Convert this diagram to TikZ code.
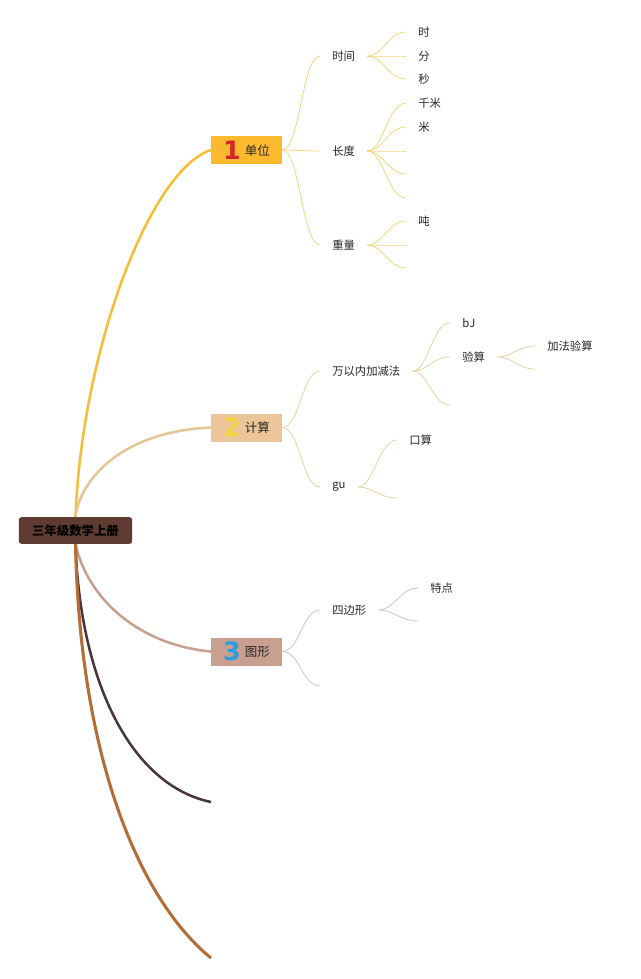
\documentclass[tikz,border=0pt]{standalone}
\usepackage{fontspec}
\newfontfamily\cjkfont{Noto Sans CJK SC}
\newfontfamily\numfont{DejaVu Sans}
\usepackage{xcolor}
\usetikzlibrary{positioning}

\definecolor{rootbrown}{HTML}{5F3B31}
\definecolor{unitfill}{HTML}{FBBA2E}
\definecolor{calcfill}{HTML}{ECC699}
\definecolor{shapefill}{HTML}{C9A08F}
\definecolor{unitline}{HTML}{F6BE38}
\definecolor{calcline}{HTML}{E3C597}
\definecolor{shapeline}{HTML}{C9A090}
\definecolor{darkline}{HTML}{4A3639}
\definecolor{rustline}{HTML}{B36E38}
\definecolor{unittwig}{HTML}{F7D47C}
\definecolor{calctwig}{HTML}{E6D3A3}
\definecolor{shapetwig}{HTML}{D0C6C0}
\definecolor{numred}{HTML}{D7262A}
\definecolor{numyellow}{HTML}{F6D545}
\definecolor{numblue}{HTML}{2C9CE0}

\begin{document}
\begin{tikzpicture}[x=0.75pt, y=-0.75pt,
        rootbox/.style={rectangle, rounded corners=2pt, fill=rootbrown, minimum width=85pt, minimum height=20pt, inner sep=0pt, font=\cjkfont\bfseries\fontsize{9.3}{10}\selectfont, text=black},
        mainbox/.style={rectangle, fill=#1, minimum width=53pt, minimum height=21pt, inner sep=0pt, font=\cjkfont\fontsize{9.4}{10}\selectfont, text=black!85},
        topic/.style={anchor=west, inner xsep=9pt, inner ysep=0pt, font=\cjkfont\fontsize{8.5}{9}\selectfont, text=black!85},
        trunk/.style={draw=#1, line width=1.9pt},
        twig/.style={draw=#1, line width=0.6pt}
    ]
        \useasboundingbox (0,0) rectangle (640,979);

        % Root and main topics
        \node[rootbox] (root) at (75.5, 530.5) {三年级数学上册};
        \node[mainbox=unitfill] (unit) at (246.5, 150) {{\numfont\bfseries\fontsize{19}{19}\selectfont\color{numred}1}\hspace{3pt}\raisebox{3pt}{单位}};
        \node[mainbox=calcfill] (calc) at (246.5, 427.5) {{\numfont\bfseries\fontsize{19}{19}\selectfont\color{numyellow}2}\hspace{3pt}\raisebox{3pt}{计算}};
        \node[mainbox=shapefill] (shape) at (246.5, 651.5) {{\numfont\bfseries\fontsize{19}{19}\selectfont\color{numblue}3}\hspace{3pt}\raisebox{3pt}{图形}};
        \coordinate (blank4) at (211, 802);
        \coordinate (blank5) at (211, 958);

        % Trunks
        \draw[trunk=unitline] (root.north) .. controls (82, 350) and (150, 170) .. (unit.west);
        \draw[trunk=calcline] (root.north) .. controls (79, 485) and (115, 432) .. (calc.west);
        \draw[trunk=shapeline] (root.south) .. controls (88, 600) and (140, 645) .. (shape.west);
        \draw[trunk=darkline] (root.south) .. controls (80, 680) and (130, 785) .. (blank4);
        \draw[trunk=rustline, line width=2.3pt] (root.south) .. controls (80, 760) and (140, 900) .. (blank5);

        % Unit branch
        \node[topic] (time) at (320, 56) {时间};
        \node[topic] (length) at (320, 151) {长度};
        \node[topic] (weight) at (320, 245) {重量};
        \node[topic] (hour) at (406, 32) {时};
        \node[topic] (minute) at (406, 56) {分};
        \node[topic] (second) at (406, 79) {秒};
        \node[topic] (km) at (406, 103) {千米};
        \node[topic] (m) at (406, 127) {米};
        \coordinate (len3) at (406, 151);
        \coordinate (len4) at (406, 174);
        \coordinate (len5) at (406, 198);
        \node[topic] (ton) at (406, 221) {吨};
        \coordinate (wt2) at (406, 245);
        \coordinate (wt3) at (406, 268);

        \draw[twig=unittwig] (unit.east) .. controls +(18, 0) and +(-18, 0) .. (time.west);
        \draw[twig=unittwig] (unit.east) .. controls +(18, 0) and +(-18, 0) .. (length.west);
        \draw[twig=unittwig] (unit.east) .. controls +(18, 0) and +(-18, 0) .. (weight.west);
        \draw[twig=unittwig] (time.east) .. controls +(16, 0) and +(-18, 0) .. (hour.west);
        \draw[twig=unittwig] (time.east) .. controls +(16, 0) and +(-18, 0) .. (minute.west);
        \draw[twig=unittwig] (time.east) .. controls +(16, 0) and +(-18, 0) .. (second.west);
        \draw[twig=unittwig] (length.east) .. controls +(16, 0) and +(-18, 0) .. (km.west);
        \draw[twig=unittwig] (length.east) .. controls +(16, 0) and +(-18, 0) .. (m.west);
        \draw[twig=unittwig] (length.east) .. controls +(16, 0) and +(-18, 0) .. (len3);
        \draw[twig=unittwig] (length.east) .. controls +(16, 0) and +(-18, 0) .. (len4);
        \draw[twig=unittwig] (length.east) .. controls +(16, 0) and +(-18, 0) .. (len5);
        \draw[twig=unittwig] (weight.east) .. controls +(16, 0) and +(-18, 0) .. (ton.west);
        \draw[twig=unittwig] (weight.east) .. controls +(16, 0) and +(-18, 0) .. (wt2);
        \draw[twig=unittwig] (weight.east) .. controls +(16, 0) and +(-18, 0) .. (wt3);

        % Calc branch
        \node[topic] (addsub) at (320, 371) {万以内加减法};
        \node[topic] (gu) at (320, 487) {gu};
        \node[topic] (bj) at (450, 323) {bJ};
        \node[topic] (check) at (450, 357) {验算};
        \coordinate (calc3) at (450, 405);
        \node[topic] (addcheck) at (535, 346) {加法验算};
        \coordinate (check2) at (535, 369);
        \node[topic] (oral) at (397, 440) {口算};
        \coordinate (gu2) at (397, 498);

        \draw[twig=calctwig] (calc.east) .. controls +(18, 0) and +(-18, 0) .. (addsub.west);
        \draw[twig=calctwig] (calc.east) .. controls +(18, 0) and +(-18, 0) .. (gu.west);
        \draw[twig=calctwig] (addsub.east) .. controls +(16, 0) and +(-18, 0) .. (bj.west);
        \draw[twig=calctwig] (addsub.east) .. controls +(16, 0) and +(-18, 0) .. (check.west);
        \draw[twig=calctwig] (addsub.east) .. controls +(16, 0) and +(-18, 0) .. (calc3);
        \draw[twig=calctwig] (check.east) .. controls +(16, 0) and +(-18, 0) .. (addcheck.west);
        \draw[twig=calctwig] (check.east) .. controls +(16, 0) and +(-18, 0) .. (check2);
        \draw[twig=calctwig] (gu.east) .. controls +(16, 0) and +(-18, 0) .. (oral.west);
        \draw[twig=calctwig] (gu.east) .. controls +(16, 0) and +(-18, 0) .. (gu2);

        % Shape branch
        \node[topic] (quad) at (320, 610) {四边形};
        \coordinate (shape2) at (320, 686);
        \node[topic] (feature) at (418, 588) {特点};
        \coordinate (quad2) at (418, 621);

        \draw[twig=shapetwig] (shape.east) .. controls +(18, 0) and +(-18, 0) .. (quad.west);
        \draw[twig=shapetwig] (shape.east) .. controls +(18, 0) and +(-18, 0) .. (shape2);
        \draw[twig=shapetwig] (quad.east) .. controls +(16, 0) and +(-18, 0) .. (feature.west);
        \draw[twig=shapetwig] (quad.east) .. controls +(16, 0) and +(-18, 0) .. (quad2);
\end{tikzpicture}
\end{document}
